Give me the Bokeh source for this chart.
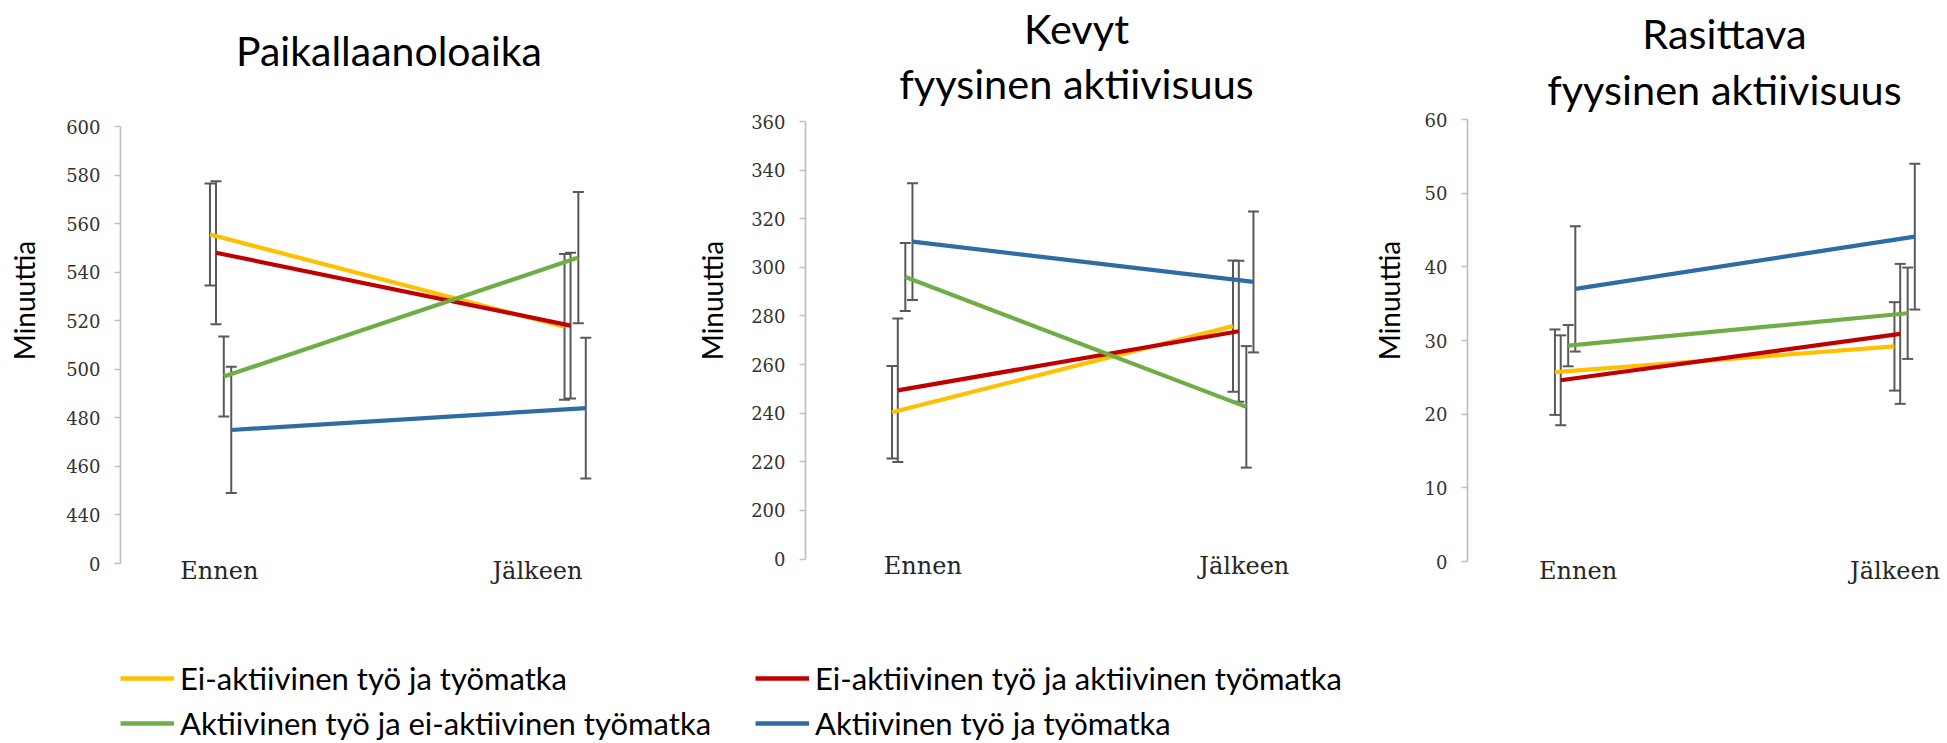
from bokeh.plotting import figure
from bokeh.layouts import row, column
from bokeh.models import Range1d, FixedTicker, Label, Legend, LegendItem
from bokeh.core.properties import value
from bokeh.embed import file_html
from bokeh.resources import INLINE

# ---------------- data ----------------
categories = ["Ennen", "Jälkeen"]
series_names = ["Ei-aktiivinen työ ja työmatka",
                "Ei-aktiivinen työ ja aktiivinen työmatka",
                "Aktiivinen työ ja ei-aktiivinen työmatka",
                "Aktiivinen työ ja työmatka"]
series_colors = ["#FFC000", "#C00000", "#70AD47", "#2E6DA4"]

# Paikallaanoloaika (means and error half-widths, per series: [Ennen, Jälkeen])
paik_mean = [[555.5, 517.5], [548.0, 518.0], [497.0, 546.0], [475.0, 484.0]]
paik_err = [[21.0, 30.0], [29.5, 30.0], [16.5, 27.0], [26.0, 29.0]]
paik_ticks = [420, 440, 460, 480, 500, 520, 540, 560, 580, 600]
paik_tick_labels = ["0", "440", "460", "480", "500", "520", "540", "560", "580", "600"]

# Kevyt fyysinen aktiivisuus
kevyt_mean = [[240.4, 275.8], [249.4, 273.7], [296.0, 242.6], [310.6, 294.0]]
kevyt_err = [[19.0, 27.0], [29.5, 29.0], [14.0, 25.0], [24.0, 29.0]]
kevyt_ticks = [180, 200, 220, 240, 260, 280, 300, 320, 340, 360]
kevyt_tick_labels = ["0", "200", "220", "240", "260", "280", "300", "320", "340", "360"]

# Rasittava fyysinen aktiivisuus
rasit_mean = [[25.7, 29.2], [24.6, 30.9], [29.3, 33.7], [37.0, 44.1]]
rasit_err = [[5.8, 6.0], [6.1, 9.5], [2.8, 6.2], [8.5, 9.9]]
rasit_ticks = [0, 10, 20, 30, 40, 50, 60]
rasit_tick_labels = ["0", "10", "20", "30", "40", "50", "60"]

titles = [["Paikallaanoloaika"], ["Kevyt", "fyysinen aktiivisuus"], ["Rasittava", "fyysinen aktiivisuus"]]
y_label = "Minuuttia"

# ---------------- layout (page pixels) ----------------
SERIES_OFFSET = [-0.029, -0.012, 0.010, 0.031]
FIG_H = 600
LEG_H = 143
panels = [
    dict(mean=paik_mean, err=paik_err, ticks=paik_ticks, labels=paik_tick_labels,
         left=0, width=690, axis_x=120, frame_right=680, top=126, zero=563,
         ennen=219.75, jalk=574.3, cat_x=[218.8, 537.0], cat_base=570, title_x=388.5, title_y=[50],
         title_size=41, label_standoff=22),
    dict(mean=kevyt_mean, err=kevyt_err, ticks=kevyt_ticks, labels=kevyt_tick_labels,
         left=690, width=678, axis_x=805, frame_right=1365, top=121, zero=558.5,
         ennen=901.4, jalk=1242.4, cat_x=[922.3, 1243.8], cat_base=565, title_x=1076, title_y=[27, 82],
         title_size=41.5, label_standoff=19),
    dict(mean=rasit_mean, err=rasit_err, ticks=rasit_ticks, labels=rasit_tick_labels,
         left=1368, width=579, axis_x=1465, frame_right=1947, top=119, zero=561,
         ennen=1562.7, jalk=1903.6, cat_x=[1576.0, 1894.4], cat_base=570, title_x=1723, title_y=[32.5, 88],
         title_size=41.5, label_standoff=16),
]

figs = []
for k, cfg in enumerate(panels):
    ymin, ymax = cfg["ticks"][0], cfg["ticks"][-1]
    pxu_y = (cfg["zero"] - cfg["top"]) / (ymax - ymin)
    sx = cfg["jalk"] - cfg["ennen"]

    def ydata(page_y):
        return ymin + (cfg["zero"] - page_y) / pxu_y

    def xdata(page_x):
        return (page_x - cfg["ennen"]) / sx

    p = figure(width=cfg["width"], height=FIG_H,
               x_range=Range1d(xdata(cfg["axis_x"]), xdata(cfg["frame_right"])),
               y_range=Range1d(ydata(FIG_H), ydata(0)),
               min_border_left=cfg["axis_x"] - cfg["left"],
               min_border_right=cfg["left"] + cfg["width"] - cfg["frame_right"],
               min_border_top=0, min_border_bottom=0,
               x_axis_location=None, toolbar_location=None, output_backend="svg",
               outline_line_color=None, background_fill_color="white", border_fill_color="white")
    p.grid.visible = False

    ax = p.yaxis[0]
    ax.ticker = FixedTicker(ticks=cfg["ticks"])
    ax.major_label_overrides = {t: l for t, l in zip(cfg["ticks"], cfg["labels"])}
    ax.bounds = (ymin, ymax)
    ax.axis_line_color = "#BFBFBF"
    ax.axis_line_width = 1.7
    ax.major_tick_line_color = "#BFBFBF"
    ax.major_tick_line_width = 1.7
    ax.major_tick_in = 0
    ax.major_tick_out = 6
    ax.minor_tick_line_color = None
    ax.major_label_standoff = 14
    ax.major_label_text_font = "DejaVu Serif"
    ax.major_label_text_font_size = "18px"
    ax.major_label_text_color = "#333333"
    ax.axis_label = y_label
    ax.axis_label_text_font = "Lato"
    ax.axis_label_text_font_style = "normal"
    ax.axis_label_text_font_size = "28px"
    ax.axis_label_text_color = "#000000"
    ax.axis_label_standoff = cfg["label_standoff"]

    # error bars
    for i in range(4):
        xs = [j + SERIES_OFFSET[i] for j in range(len(categories))]
        lo = [m - e for m, e in zip(cfg["mean"][i], cfg["err"][i])]
        hi = [m + e for m, e in zip(cfg["mean"][i], cfg["err"][i])]
        p.segment(x0=xs, y0=lo, x1=xs, y1=hi, line_color="#595959", line_width=2)
        p.scatter(x=xs + xs, y=lo + hi, marker="dash", size=11, line_color="#595959", line_width=2)
    # series lines
    for i in range(4):
        xs = [j + SERIES_OFFSET[i] for j in range(len(categories))]
        p.line(x=xs, y=cfg["mean"][i], line_color=series_colors[i], line_width=4.2)

    # category labels
    p.text(x=[xdata(cx) for cx in cfg["cat_x"]],
           y=[ydata(cfg["cat_base"])] * len(categories), text=categories,
           text_font=value("DejaVu Serif"), text_font_size="24px", text_color="#262626",
           text_align="center", text_baseline="alphabetic")

    # title
    for txt, ty in zip(titles[k], cfg["title_y"]):
        p.add_layout(Label(x=xdata(cfg["title_x"]), y=ydata(ty),
                           text=txt, text_font="Lato", text_font_size=f"{cfg['title_size']}px",
                           text_color="#000000", text_align="center", text_baseline="middle"))
    figs.append(p)

# ---------------- legend ----------------
lf = figure(width=1947, height=LEG_H, x_range=Range1d(0, 1), y_range=Range1d(0, 1),
            x_axis_location=None, y_axis_location=None, toolbar_location=None,
            output_backend="svg", min_border=0, outline_line_color=None)
lf.grid.visible = False
nan = float("nan")
rends = [lf.line(x=[nan, nan], y=[nan, nan], line_color=c, line_width=4.5) for c in series_colors]
for cols, lx in (([0, 2], 120), ([1, 3], 755)):
    leg = Legend(items=[LegendItem(label=series_names[i], renderers=[rends[i]]) for i in cols],
                 location=(lx, 1), orientation="vertical",
                 label_text_font="Lato", label_text_font_size="31px", label_text_color="#000000",
                 label_height=36, glyph_height=36, glyph_width=54, label_standoff=6,
                 spacing=7, padding=0, margin=0, border_line_color=None,
                 background_fill_alpha=0)
    lf.add_layout(leg)

layout = column(row(*figs), lf)
with open("out.html", "w", encoding="utf-8") as f:
    f.write(file_html(layout, INLINE))
